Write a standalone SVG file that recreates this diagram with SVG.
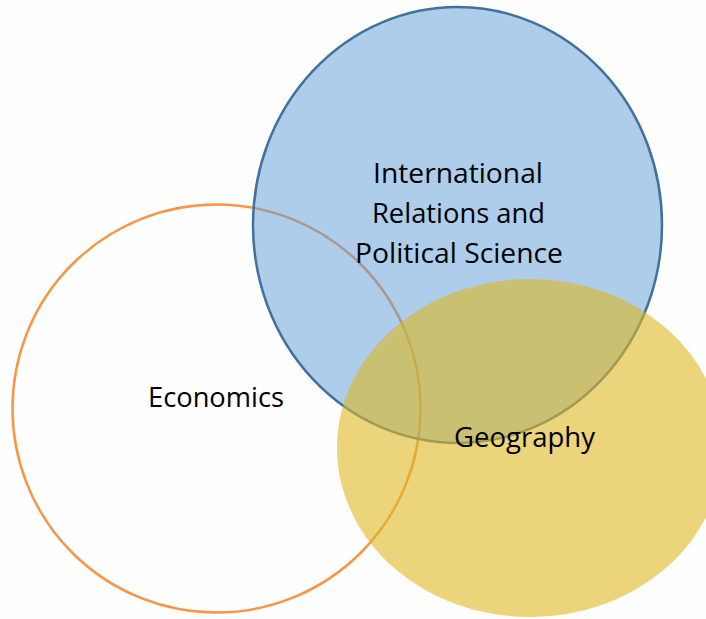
<svg xmlns="http://www.w3.org/2000/svg" width="706" height="619" viewBox="0 0 706 619">
  <style>
    .label { font-family: "Open Sans", "Liberation Sans", sans-serif; font-size: 27px; fill: #000; text-anchor: middle; }
  </style>
  <rect x="0" y="0" width="706" height="619" fill="#FEFEFE"/>
  <!-- Economics: outline-only circle at the bottom of the stack -->
  <g id="economics">
    <circle cx="216.5" cy="408.5" r="204" fill="none" stroke="#F79646" stroke-width="2.5"/>
  </g>
  <!-- International Relations and Political Science -->
  <g id="ir-polsci">
    <ellipse cx="457.5" cy="225" rx="204.5" ry="218" fill="#5B9BD5" fill-opacity="0.5" stroke="#41719C" stroke-width="2.5"/>
  </g>
  <!-- Geography: translucent gold on top -->
  <g id="geography">
    <ellipse cx="530" cy="448" rx="193" ry="169" fill="#DEB721" fill-opacity="0.6"/>
  </g>
  <g id="labels">
    <text class="label" x="458" y="183" textLength="170" lengthAdjust="spacingAndGlyphs">International</text>
    <text class="label" x="458.5" y="223" textLength="173" lengthAdjust="spacingAndGlyphs">Relations and</text>
    <text class="label" x="459" y="263" textLength="208" lengthAdjust="spacingAndGlyphs">Political Science</text>
    <text class="label" x="216" y="407" textLength="136" lengthAdjust="spacingAndGlyphs">Economics</text>
    <text class="label" x="524.5" y="447" textLength="141" lengthAdjust="spacingAndGlyphs">Geography</text>
  </g>
</svg>
